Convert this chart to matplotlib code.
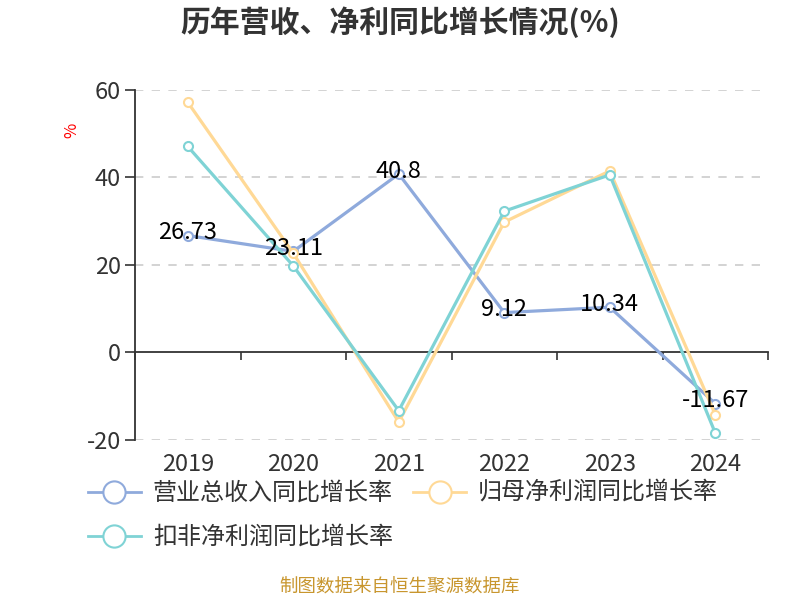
import matplotlib
matplotlib.use("Agg")
import matplotlib.pyplot as plt
import matplotlib.transforms as mtransforms
from matplotlib.lines import Line2D

plt.rcParams['font.family'] = ['Noto Sans CJK SC', 'DejaVu Sans']
plt.rcParams['axes.unicode_minus'] = False

years = ['2019', '2020', '2021', '2022', '2023', '2024']
revenue_growth = [26.73, 23.11, 40.8, 9.12, 10.34, -11.67]
net_profit_growth = [57.2, 22.7, -15.9, 29.8, 41.5, -14.2]
deducted_profit_growth = [47.1, 19.8, -13.3, 32.3, 40.6, -18.4]

series_names = ['营业总收入同比增长率', '归母净利润同比增长率', '扣非净利润同比增长率']
colors = ['#8FAADC', '#FFD996', '#7FD3D5']

fig = plt.figure(figsize=(8, 6), dpi=100)
ax = fig.add_axes([0.16875, 0.2667, 0.79125, 0.5833])

x = list(range(len(years)))
all_series = [revenue_growth, net_profit_growth, deducted_profit_growth]
for vals, c in zip(all_series, colors):
    ax.plot(x, vals, color=c, linewidth=2.3, marker='o', markersize=6.5,
            markerfacecolor='white', markeredgecolor=c, markeredgewidth=1.5,
            zorder=3)

# data labels for revenue only
for xi, v in zip(x, revenue_growth):
    ax.annotate(str(v), (xi, v), xytext=(0, 2), textcoords='offset points',
                ha='center', va='center', fontsize=17, color='black', zorder=5)

ax.set_xlim(-0.5, len(years) - 0.5)
ax.set_ylim(-20, 60)
ax.set_yticks([-20, 0, 20, 40, 60])
ax.tick_params(axis='y', labelsize=17, labelcolor='#333333', color='#333333',
               length=7, width=1.2, pad=3)

for y in [-20, 20, 40, 60]:
    ax.axhline(y, color='#CCCCCC', linewidth=1.2, linestyle=(0, (5, 5)), zorder=0)

ax.spines['top'].set_visible(False)
ax.spines['right'].set_visible(False)
ax.spines['left'].set_color('#333333')
ax.spines['left'].set_linewidth(1.3)
ax.spines['bottom'].set_position(('data', 0))
ax.spines['bottom'].set_color('#333333')
ax.spines['bottom'].set_linewidth(1.3)

# boundary ticks on the zero axis, category labels at the bottom
ax.set_xticks([i - 0.5 for i in range(len(years) + 1)])
ax.set_xticklabels([])
ax.tick_params(axis='x', length=6, width=1.2, color='#333333', direction='out')
trans = mtransforms.blended_transform_factory(ax.transData, ax.transAxes)
for xi, label in zip(x, years):
    ax.text(xi, -0.07, label, transform=trans, ha='center', va='center',
            fontsize=17, color='#333333')

ax.text(-0.1, 0.886, '%', transform=ax.transAxes, rotation=90, color='red',
        fontsize=12, ha='center', va='center')

fig.text(0.5, 0.963, '历年营收、净利同比增长情况(%)', ha='center', va='center',
         fontsize=21.5, fontweight='bold', color='#333333')

handles = [Line2D([0], [0], color=c, linewidth=2, marker='o', markersize=16,
                  markerfacecolor='white', markeredgecolor=c, markeredgewidth=1.5)
           for c in colors]
order = [0, 2, 1]
fig.legend([handles[i] for i in order], [series_names[i] for i in order],
           loc='upper left', bbox_to_anchor=(0.11, 0.2),
           ncol=2, frameon=False, fontsize=17.3, labelcolor='#333333',
           handlelength=2.2, handletextpad=0.5, columnspacing=0.85,
           labelspacing=0.75, borderaxespad=0, borderpad=0)

fig.text(0.5, 0.02, '制图数据来自恒生聚源数据库', ha='center', va='center',
         fontsize=13.3, color='#C8962E')

fig.savefig('out.png', dpi=100)
